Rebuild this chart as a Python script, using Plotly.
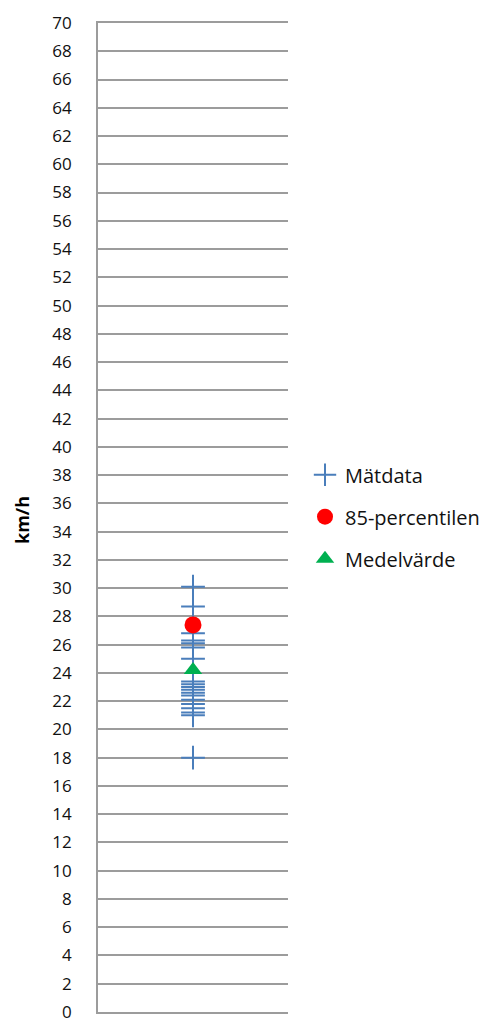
import plotly.graph_objects as go

# Speed measurements (km/h) at a single measuring point
category = ["Mätpunkt"]
matdata = [30.1, 28.7, 26.8, 26.3, 26.1, 25.8, 25.0, 23.4, 23.2, 23.0,
           22.8, 22.6, 22.4, 22.1, 21.8, 21.5, 21.2, 21.0, 18.0]
percentil_85 = [27.4]
medelvarde = [24.2]
y_ticks = list(range(0, 72, 2))

FONT = "Open Sans"
GRID = "#9c9c9c"

fig = go.Figure()
fig.add_trace(go.Scatter(
    x=category * len(matdata), y=matdata, mode="markers", name="Mätdata",
    legendgroup="a",
    marker=dict(symbol="cross-thin", size=17, line=dict(color="#4a7ebb", width=2)),
))
fig.add_trace(go.Scatter(
    x=category, y=percentil_85, mode="markers", name="85-percentilen",
    legendgroup="b",
    marker=dict(symbol="circle", size=17, color="#ff0000"),
))
fig.add_trace(go.Scatter(
    x=category, y=medelvarde, mode="markers", name="Medelvärde",
    legendgroup="c",
    marker=dict(symbol="triangle-up", size=16, color="#00b050"),
))

fig.update_layout(
    width=486, height=1019,
    margin=dict(l=98, r=198, t=23, b=7, autoexpand=False),
    paper_bgcolor="white", plot_bgcolor="white",
    font=dict(family=FONT, color="#111111"),
    showlegend=True,
    legend=dict(x=1.0895, xanchor="left", y=0.563, yanchor="top",
                font=dict(size=20, family=FONT), tracegroupgap=13,
                bgcolor="rgba(0,0,0,0)"),
    # bottom (0) and top (70) lines come from the x axis line and its mirror
    xaxis=dict(type="category", showticklabels=False, showgrid=False,
               zeroline=False, showline=True, mirror=True, linecolor=GRID,
               linewidth=1.6, fixedrange=True, automargin=False),
    yaxis=dict(range=[0, 70], tickvals=y_ticks, ticktext=[str(v) for v in y_ticks],
               showgrid=True, gridcolor=GRID, gridwidth=1.6, automargin=False,
               zeroline=False, showline=True, linecolor=GRID, linewidth=1.6,
               ticks="", ticklabelstandoff=21, ticklabeloverflow="allow",
               tickfont=dict(size=17, family=FONT, color="#111111")),
    annotations=[dict(text="<b>km/h</b>", textangle=-90, xref="paper", yref="paper",
                      x=(22 - 98) / 190, y=(1012 - 520) / 989, xanchor="center",
                      yanchor="middle", showarrow=False,
                      font=dict(size=18, family=FONT, color="#000000"))],
)

fig.write_html("out.html")
